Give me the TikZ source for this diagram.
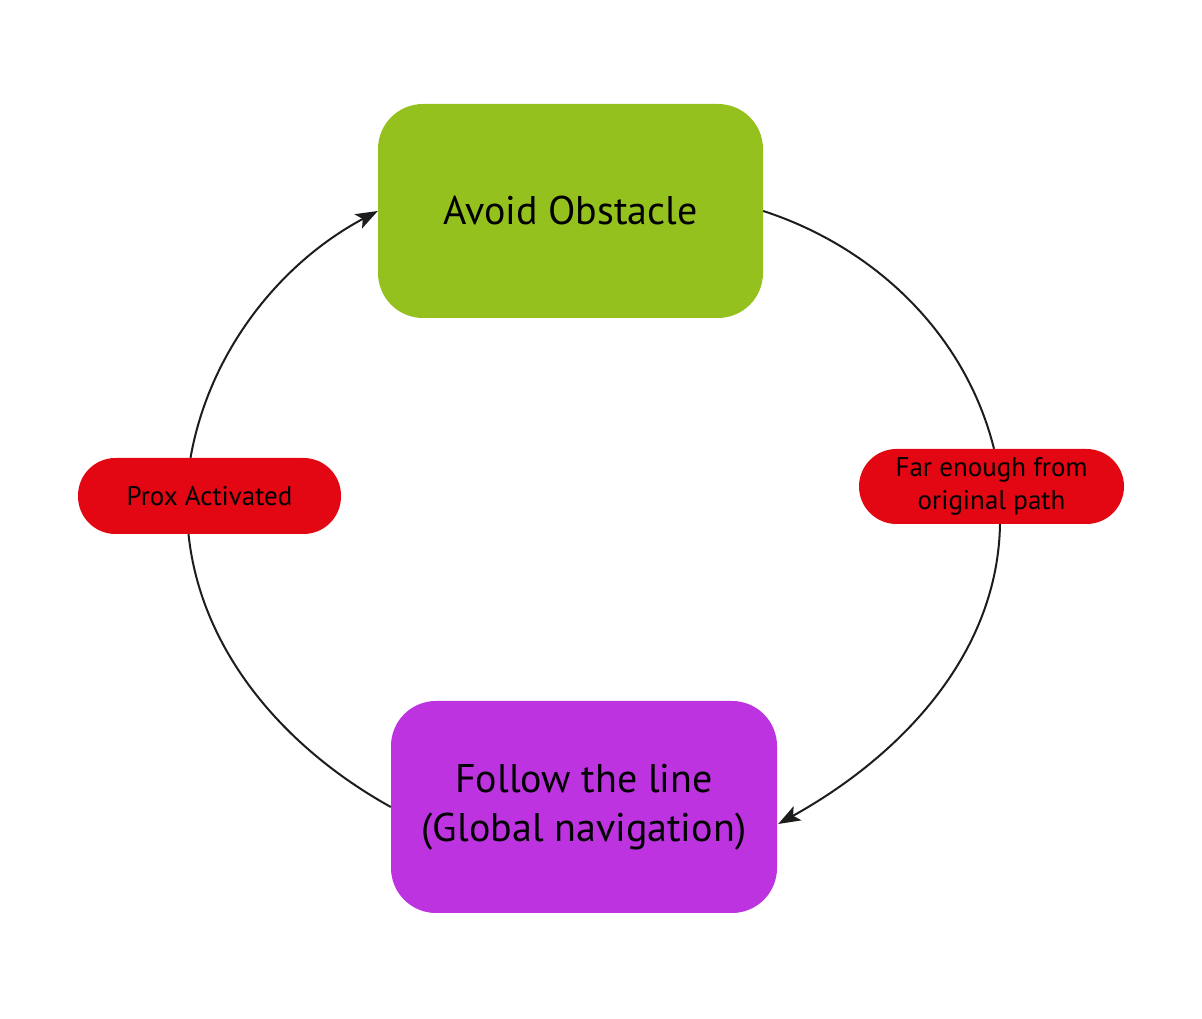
\documentclass[tikz,border=0pt]{standalone}
\usepackage{fontspec}
\setmainfont{PT Sans}
\usetikzlibrary{arrows.meta,calc}
\definecolor{boxgreen}{HTML}{95C11F}
\definecolor{boxpurple}{HTML}{BC33DF}
\definecolor{pillred}{HTML}{E30613}
\definecolor{lineblack}{HTML}{1D1D1B}
\tikzset{
  state/.style={rectangle, rounded corners=45pt, inner sep=0pt, align=center,
    font=\fontsize{40}{49}\selectfont, text=black},
  pill/.style={rectangle, rounded corners=37.5pt, fill=pillred, inner sep=0pt,
    align=center, minimum height=75pt, font=\fontsize{27}{33}\selectfont, text=black},
  conn/.style={draw=lineblack, line width=2pt},
  arr/.style={conn, -{Stealth[length=22pt,width=16pt,inset=5pt]}}
}
\begin{document}
\begin{tikzpicture}[x=1pt,y=1pt]
\useasboundingbox (0,0) rectangle (1202,1019);
\node[state, fill=boxgreen, minimum width=385pt, minimum height=214pt] (A) at (570.5,808) {Avoid Obstacle};
\node[state, fill=boxpurple, minimum width=386pt, minimum height=212pt] (F) at (584,212) {Follow the line\\(Global navigation)};
\node[pill, minimum width=265pt, minimum height=75pt] (far) at (991.5,532.5) {Far enough from\\original path};
\node[pill, minimum width=263pt, minimum height=76pt] (prox) at (209.5,523) {Prox Activated};
\draw[conn] (A.east) to[out=-18,in=104,looseness=0.91] ($(far.north)+(2.5,0)$);
\draw[arr] ($(far.south)+(8.5,0)$) to[out=-91,in=29,looseness=0.92] ($(F.east)+(1,-17)$);
\draw[conn] (F.west) to[out=151,in=-84,looseness=0.9] ($(prox.south)+(-21,0)$);
\draw[arr] ($(prox.north)+(-19,0)$) to[out=80,in=-152,looseness=0.9] (A.west);
\end{tikzpicture}
\end{document}
